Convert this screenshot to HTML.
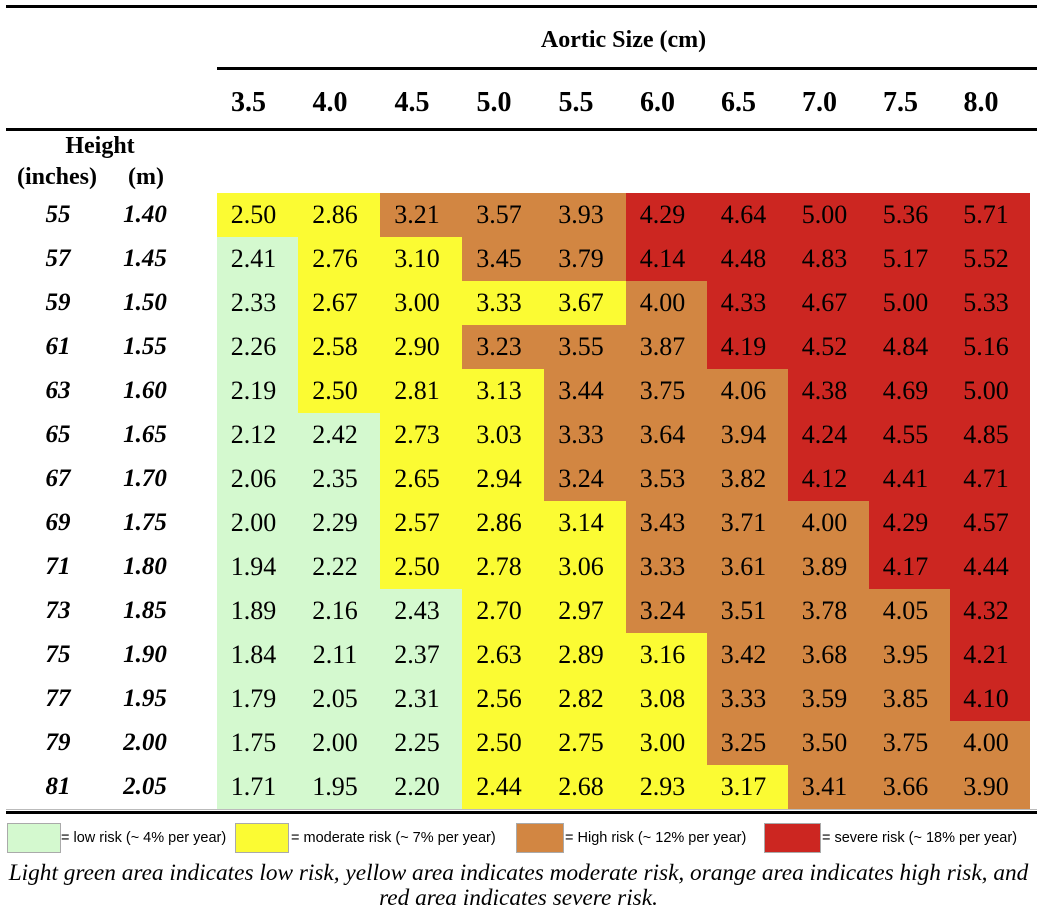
<!DOCTYPE html>
<html><head><meta charset="utf-8"><style>
body{margin:0;width:1037px;height:913px;background:#fff;position:relative;overflow:hidden;font-family:"Liberation Serif",serif;color:#000}
div{position:absolute}
.c{height:44px;line-height:44px;text-align:center;font-size:26px;width:82px}
.c span{position:relative;left:-4px}
.G{background:#d4f9cf}.Y{background:#fbfb33}.O{background:#d28642}.R{background:#cc2621}
.h{font-weight:bold;font-size:28px;text-align:center;width:82px;top:87px}
.l{font-weight:bold;font-style:italic;font-size:25px;text-align:center;height:44px;line-height:44px}
.lg{font-family:"Liberation Sans",sans-serif;font-size:14.5px;top:830px}
.bx{top:823px;height:28px;border:1px solid #aaa}
</style></head><body>
<div style="left:6px;top:5px;width:1031px;height:3px;background:#000"></div>
<div style="left:217px;top:27px;width:813px;text-align:center;font-weight:bold;font-size:24px">Aortic Size (cm)</div>
<div style="left:217px;top:67px;width:820px;height:3px;background:#000"></div>
<div style="left:6px;top:128px;width:1031px;height:3px;background:#000"></div>
<div style="left:25px;top:133px;width:150px;font-weight:bold;font-size:24px;text-align:center">Height</div>
<div style="left:17px;top:164px;font-weight:bold;font-size:24px">(inches)</div>
<div style="left:128px;top:164px;font-weight:bold;font-size:24px">(m)</div>
<div id="g"></div>
<div style="left:6px;top:809px;width:1031px;height:1px;background:#bbb"></div>
<div style="left:6px;top:811px;width:1031px;height:3px;background:#000"></div>
<div class="bx G" style="left:7px;width:52px"></div><div class="lg" style="left:61px">= low risk (~ 4% per year)</div>
<div class="bx Y" style="left:235px;width:52px"></div><div class="lg" style="left:291px">= moderate risk (~ 7% per year)</div>
<div class="bx O" style="left:516px;width:46px"></div><div class="lg" style="left:565px">= High risk (~ 12% per year)</div>
<div class="bx R" style="left:764px;width:55px"></div><div class="lg" style="left:822px">= severe risk (~ 18% per year)</div>
<div style="left:0;top:861px;width:1037px;text-align:center;font-style:italic;font-size:23.3px;line-height:25px;white-space:nowrap">Light green area indicates low risk, yellow area indicates moderate risk, orange area indicates high risk, and<br>red area indicates severe risk.</div>
<script>
var xs=[217,298,380,462,544,626,707,788,869,950,1030];
var hd=["3.5","4.0","4.5","5.0","5.5","6.0","6.5","7.0","7.5","8.0"];
var rows=[
["55","1.40","YYOOORRRRR","2.50 2.86 3.21 3.57 3.93 4.29 4.64 5.00 5.36 5.71"],
["57","1.45","GYYOORRRRR","2.41 2.76 3.10 3.45 3.79 4.14 4.48 4.83 5.17 5.52"],
["59","1.50","GYYYYORRRR","2.33 2.67 3.00 3.33 3.67 4.00 4.33 4.67 5.00 5.33"],
["61","1.55","GYYOOORRRR","2.26 2.58 2.90 3.23 3.55 3.87 4.19 4.52 4.84 5.16"],
["63","1.60","GYYYOOORRR","2.19 2.50 2.81 3.13 3.44 3.75 4.06 4.38 4.69 5.00"],
["65","1.65","GGYYOOORRR","2.12 2.42 2.73 3.03 3.33 3.64 3.94 4.24 4.55 4.85"],
["67","1.70","GGYYOOORRR","2.06 2.35 2.65 2.94 3.24 3.53 3.82 4.12 4.41 4.71"],
["69","1.75","GGYYYOOORR","2.00 2.29 2.57 2.86 3.14 3.43 3.71 4.00 4.29 4.57"],
["71","1.80","GGYYYOOORR","1.94 2.22 2.50 2.78 3.06 3.33 3.61 3.89 4.17 4.44"],
["73","1.85","GGGYYOOOOR","1.89 2.16 2.43 2.70 2.97 3.24 3.51 3.78 4.05 4.32"],
["75","1.90","GGGYYYOOOR","1.84 2.11 2.37 2.63 2.89 3.16 3.42 3.68 3.95 4.21"],
["77","1.95","GGGYYYOOOR","1.79 2.05 2.31 2.56 2.82 3.08 3.33 3.59 3.85 4.10"],
["79","2.00","GGGYYYOOOO","1.75 2.00 2.25 2.50 2.75 3.00 3.25 3.50 3.75 4.00"],
["81","2.05","GGGYYYYOOO","1.71 1.95 2.20 2.44 2.68 2.93 3.17 3.41 3.66 3.90"]];
var h="";
for(var j=0;j<10;j++)h+='<div class="h" style="left:'+(xs[j]-9)+'px;width:'+(xs[j+1]-xs[j])+'px">'+hd[j]+'</div>';
rows.forEach(function(r,i){var y=193+i*44;var v=r[3].split(" ");
h+='<div class="l" style="left:30px;width:56px;top:'+y+'px">'+r[0]+'</div>';
h+='<div class="l" style="left:115px;width:60px;top:'+y+'px">'+r[1]+'</div>';
for(var j=0;j<10;j++)h+='<div class="c '+r[2][j]+'" style="left:'+xs[j]+'px;width:'+(xs[j+1]-xs[j])+'px;top:'+y+'px"><span>'+v[j]+'</span></div>';});
document.getElementById("g").outerHTML=h;
</script>
</body></html>
